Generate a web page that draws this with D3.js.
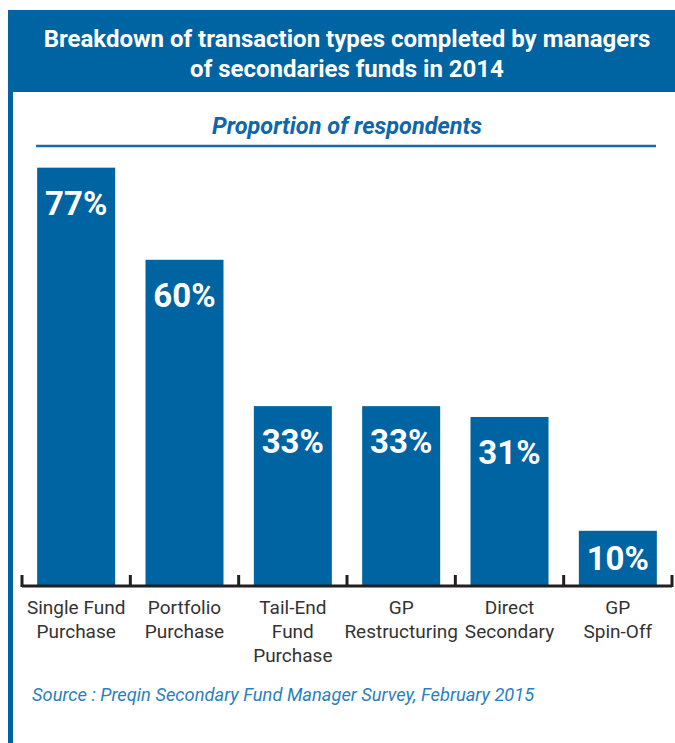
<!DOCTYPE html>
<html>
<head>
<meta charset="utf-8">
<script src="https://cdn.jsdelivr.net/npm/d3@7"></script>
<style>
  html, body { margin: 0; padding: 0; background: #fff; }
  svg { display: block; }
</style>
</head>
<body>
<div id="chart"></div>
<script>
// data
const categories = ["Single Fund Purchase", "Portfolio Purchase", "Tail-End Fund Purchase",
                    "GP Restructuring", "Direct Secondary", "GP Spin-Off"];
const labelLines = [["Single Fund", "Purchase"], ["Portfolio", "Purchase"], ["Tail-End", "Fund", "Purchase"],
                    ["GP", "Restructuring"], ["Direct", "Secondary"], ["GP", "Spin-Off"]];
const values = [77, 60, 33, 33, 31, 10];
const titleLines = ["Breakdown of transaction types completed by managers", "of secondaries funds in 2014"];
const subtitle = "Proportion of respondents";
const source = "Source : Preqin Secondary Fund Manager Survey, February 2015";

const width = 675, height = 743;
const blue = "#0063a2";

const svg = d3.select("#chart").append("svg")
  .attr("width", width)
  .attr("height", height);

// header band + left rule
svg.append("rect").attr("x", 8).attr("y", 10).attr("width", width - 8).attr("height", 82).attr("fill", blue);
svg.append("rect").attr("x", 8).attr("y", 92).attr("width", 5).attr("height", height - 92).attr("fill", blue);

svg.append("g").selectAll("text")
  .data(titleLines)
  .enter()
  .append("text")
  .attr("x", 347)
  .attr("y", (d, i) => 47 + i * 30)
  .attr("text-anchor", "middle")
  .attr("fill", "#fff")
  .attr("font-family", "Roboto, sans-serif")
  .attr("font-weight", "bold")
  .attr("font-size", "24px")
  .text(d => d);

svg.append("text")
  .attr("x", 347).attr("y", 134)
  .attr("text-anchor", "middle")
  .attr("fill", "#0f66a8")
  .attr("font-family", "Roboto, sans-serif")
  .attr("font-style", "italic")
  .attr("font-weight", "bold")
  .attr("font-size", "23.5px")
  .text(subtitle);

svg.append("line")
  .attr("x1", 36).attr("x2", 656)
  .attr("y1", 146).attr("y2", 146)
  .attr("stroke", "#1a6aab")
  .attr("stroke-width", 2.5);

// scales
const x = d3.scaleBand()
  .domain(categories)
  .range([22, 672])
  .paddingInner(0.28)
  .paddingOuter(0.14);

const y = d3.scaleLinear()
  .domain([0, 100])
  .range([585, 43]);

const bars = svg.append("g");
bars.selectAll("rect")
  .data(values)
  .enter()
  .append("rect")
  .attr("x", (d, i) => x(categories[i]))
  .attr("y", d => y(d))
  .attr("width", x.bandwidth())
  .attr("height", d => y(0) - y(d))
  .attr("fill", blue);

bars.selectAll("text")
  .data(values)
  .enter()
  .append("text")
  .attr("x", (d, i) => x(categories[i]) + x.bandwidth() / 2)
  .attr("y", d => Math.min(y(d) + 47, (y(d) + y(0)) / 2 + 12))
  .attr("text-anchor", "middle")
  .attr("fill", "#fff")
  .attr("font-family", "Roboto, sans-serif")
  .attr("font-weight", "bold")
  .attr("font-size", "33px")
  .text(d => d + "%");

// axis with upward ticks at band edges
const step = x.step();
const edges = categories.map(c => x(c) - (step - x.bandwidth()) / 2).concat([x.range()[1]]);
const axis = svg.append("g");
axis.append("line")
  .attr("x1", x.range()[0]).attr("x2", x.range()[1])
  .attr("y1", 586).attr("y2", 586)
  .attr("stroke", "#231f20")
  .attr("stroke-width", 3);
axis.selectAll(".tick")
  .data(edges)
  .enter()
  .append("line")
  .attr("class", "tick")
  .attr("x1", d => d).attr("x2", d => d)
  .attr("y1", 575).attr("y2", 587)
  .attr("stroke", "#231f20")
  .attr("stroke-width", 3);

const lbl = svg.append("g").selectAll("text")
  .data(labelLines)
  .enter()
  .append("text")
  .attr("text-anchor", "middle")
  .attr("fill", "#333")
  .attr("font-family", "Roboto, sans-serif")
  .attr("font-size", "19px");
lbl.selectAll("tspan")
  .data((d, i) => d.map(t => ({t: t, c: categories[i]})))
  .enter()
  .append("tspan")
  .attr("x", d => x(d.c) + x.bandwidth() / 2)
  .attr("y", (d, j) => 614 + j * 24)
  .text(d => d.t);

svg.append("text")
  .attr("x", 32).attr("y", 701)
  .attr("fill", "#2a7fc0")
  .attr("font-family", "Roboto, sans-serif")
  .attr("font-style", "italic")
  .attr("font-size", "18.3px")
  .text(source);
</script>
</body>
</html>
